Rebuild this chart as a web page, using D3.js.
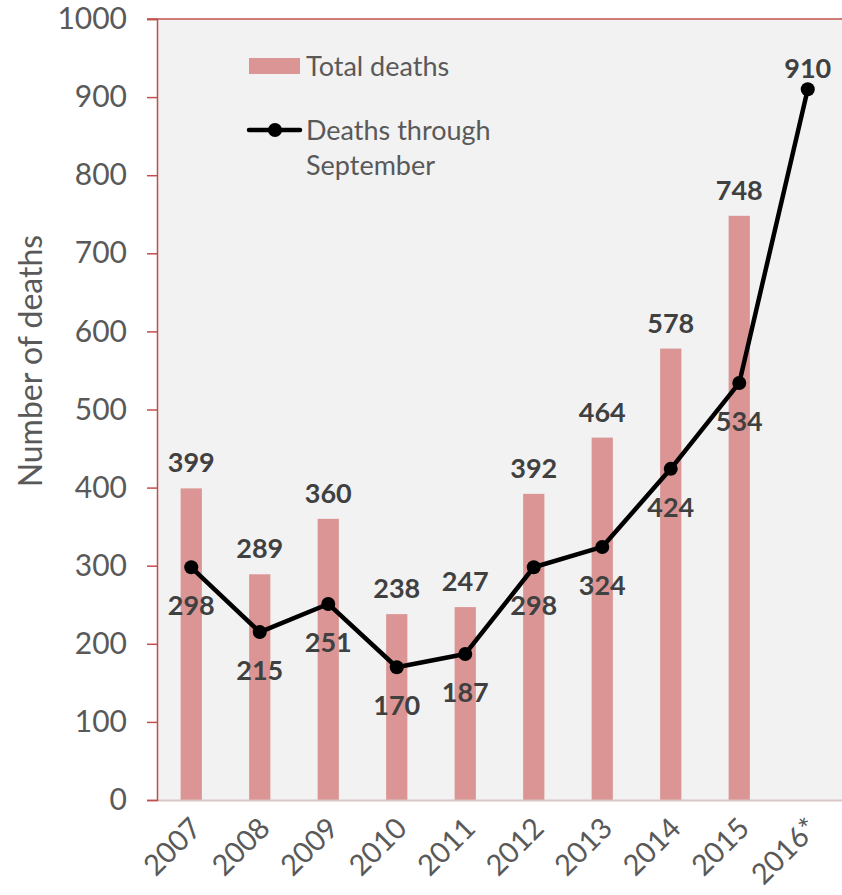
<!DOCTYPE html>
<html>
<head>
<meta charset="utf-8">
<script src="https://cdn.jsdelivr.net/npm/d3@7"></script>
<style>
  body { margin: 0; background: #fff; }
  text { font-family: Lato, "Open Sans", sans-serif; }
</style>
</head>
<body>
<svg id="drawing_region"></svg>
<script>
// data
const years = ['2007','2008','2009','2010','2011','2012','2013','2014','2015','2016*'];
const totalDeaths = [399, 289, 360, 238, 247, 392, 464, 578, 748, null];
const throughSept = [298, 215, 251, 170, 187, 298, 324, 424, 534, 910];
const yTicks = [0, 100, 200, 300, 400, 500, 600, 700, 800, 900, 1000];

const config = {
    width: 842,
    height: 895,
    margin: {top: 19, right: 0, bottom: 95, left: 157}
};

const svg = d3.select('#drawing_region')
    .attr('width', config.width)
    .attr('height', config.height);

const inner_width = config.width - config.margin.left - config.margin.right;
const inner_height = config.height - config.margin.top - config.margin.bottom;

const chart = svg.append('g')
    .attr('transform', `translate(${config.margin.left}, ${config.margin.top})`);

const xscale = d3.scaleBand()
    .domain(years)
    .range([0, inner_width])
    .paddingInner(0.69)
    .paddingOuter(0.345);

const xpoint = d => xscale(d) + xscale.bandwidth() / 2;

const yscale = d3.scaleLinear()
    .domain([0, 1000])
    .range([inner_height, 0]);

// plot background
chart.append('rect')
    .attr('width', inner_width)
    .attr('height', inner_height)
    .attr('fill', '#f2f2f2');

const barData = years.map((y, i) => ({year: y, value: totalDeaths[i]})).filter(d => d.value != null);

// bars
chart.selectAll('.bar')
    .data(barData)
    .join('rect')
    .attr('class', 'bar')
    .attr('x', d => xscale(d.year))
    .attr('y', d => yscale(d.value))
    .attr('width', xscale.bandwidth())
    .attr('height', d => inner_height - yscale(d.value))
    .attr('fill', '#da9594');

// bar labels
chart.selectAll('.barlabel')
    .data(barData)
    .join('text')
    .attr('x', d => xpoint(d.year))
    .attr('y', d => yscale(d.value) - 16)
    .attr('text-anchor', 'middle')
    .attr('font-size', 27)
    .attr('font-weight', 'bold')
    .attr('fill', '#404040')
    .text(d => d.value);

// bottom axis line
chart.append('line')
    .attr('x1', 0).attr('x2', inner_width)
    .attr('y1', inner_height + 0.5).attr('y2', inner_height + 0.5)
    .attr('stroke', '#d9c6c6')
    .attr('stroke-width', 2);

// top border
chart.append('line')
    .attr('x1', -10).attr('x2', inner_width)
    .attr('y1', 0).attr('y2', 0)
    .attr('stroke', '#c0504d')
    .attr('stroke-width', 1.5);

// y axis
const yaxis = d3.axisLeft(yscale).tickValues(yTicks).tickSize(10).tickPadding(20).tickFormat(d3.format('d'));
const yg = chart.append('g').call(yaxis);
yg.select('.domain').attr('stroke', '#c0504d').attr('stroke-width', 1.5);
yg.selectAll('.tick line').attr('stroke', '#c0504d').attr('stroke-width', 1.5);
yg.selectAll('.tick text')
    .attr('font-size', 30)
    .attr('font-family', 'Lato, sans-serif')
    .attr('fill', '#595959');

// x axis labels
const xaxis = d3.axisBottom(xscale).tickSize(0).tickPadding(0);
const xg = chart.append('g')
    .attr('transform', `translate(0, ${inner_height})`)
    .call(xaxis);
xg.select('.domain').remove();
xg.selectAll('.tick text')
    .attr('font-size', 29)
    .attr('font-family', 'Lato, sans-serif')
    .attr('fill', '#595959')
    .attr('text-anchor', 'end')
    .attr('dy', 0)
    .attr('transform', 'translate(12, 30) rotate(-45)');

// y label
svg.append('text')
    .attr('transform', `translate(42, ${config.margin.top + yscale(562)}) rotate(-90)`)
    .attr('text-anchor', 'middle')
    .attr('font-size', 32)
    .attr('fill', '#595959')
    .text('Number of deaths');

// line
const line = d3.line()
    .x((d, i) => xpoint(years[i]))
    .y(d => yscale(d));

chart.append('path')
    .attr('d', line(throughSept))
    .attr('fill', 'none')
    .attr('stroke', '#000')
    .attr('stroke-width', 4.5)
    .attr('stroke-linejoin', 'round');

chart.selectAll('.dot')
    .data(throughSept)
    .join('circle')
    .attr('cx', (d, i) => xpoint(years[i]))
    .attr('cy', d => yscale(d))
    .attr('r', 7)
    .attr('fill', '#000');

chart.selectAll('.linelabel')
    .data(throughSept)
    .join('text')
    .attr('x', (d, i) => xpoint(years[i]))
    .attr('y', (d, i) => i === years.length - 1 ? yscale(d) - 11 : yscale(d) + 48)
    .attr('text-anchor', 'middle')
    .attr('font-size', 27)
    .attr('font-weight', 'bold')
    .attr('fill', '#404040')
    .text(d => d);

// legend
const legend = chart.append('g')
    .attr('transform', `translate(${249 - config.margin.left}, ${58 - config.margin.top})`);
legend.append('rect')
    .attr('width', 51).attr('height', 16)
    .attr('fill', '#da9594');
legend.append('text')
    .attr('x', 57).attr('y', 18)
    .attr('font-size', 27)
    .attr('fill', '#595959')
    .text('Total deaths');
legend.append('line')
    .attr('x1', 0).attr('x2', 51)
    .attr('y1', 72).attr('y2', 72)
    .attr('stroke', '#000').attr('stroke-width', 4.5)
    .attr('stroke-linecap', 'round');
legend.append('circle')
    .attr('cx', 26).attr('cy', 72).attr('r', 7)
    .attr('fill', '#000');
legend.append('text')
    .attr('x', 57).attr('y', 82)
    .attr('font-size', 27)
    .attr('fill', '#595959')
    .text('Deaths through');
legend.append('text')
    .attr('x', 57).attr('y', 117)
    .attr('font-size', 27)
    .attr('fill', '#595959')
    .text('September');
</script>
</body>
</html>
